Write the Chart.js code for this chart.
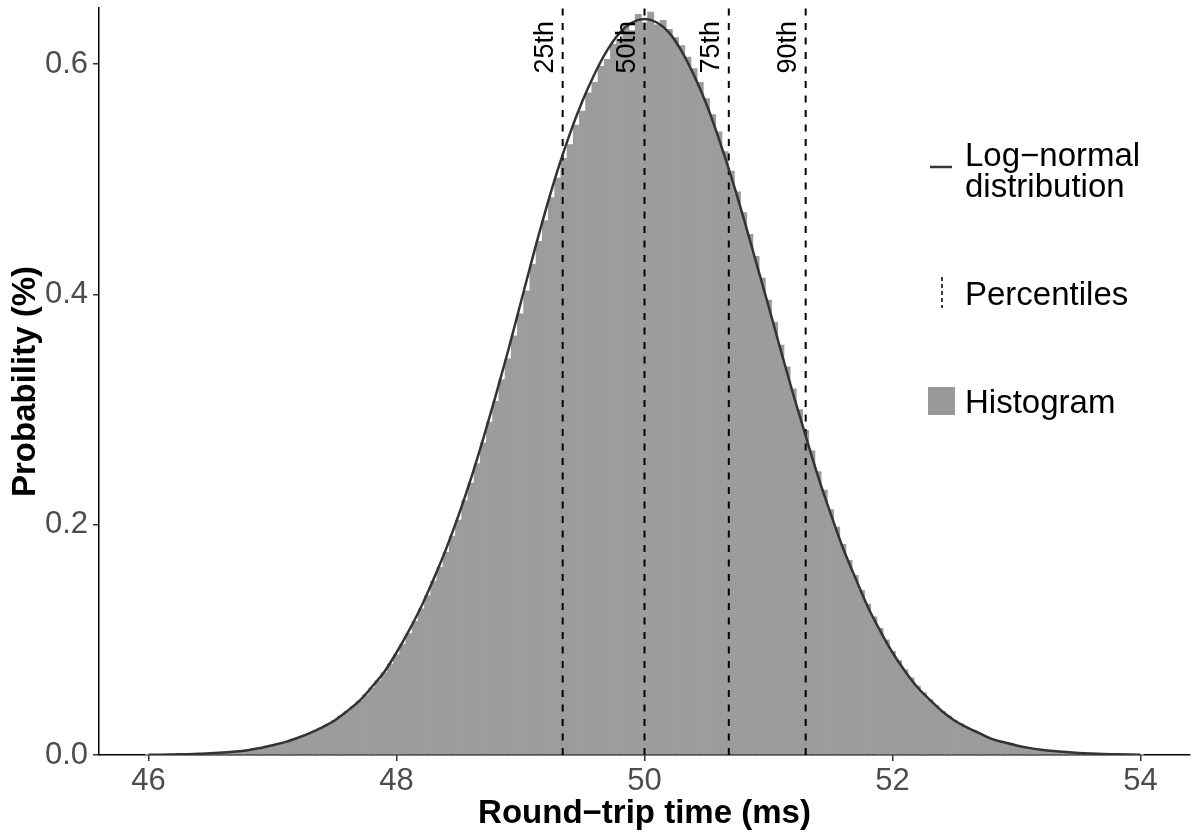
<!DOCTYPE html>
<html>
<head>
<meta charset="utf-8">
<script src="https://cdn.jsdelivr.net/npm/chart.js@4.4.1/dist/chart.umd.min.js"></script>
<style>
	html, body { margin: 0; padding: 0; background: #fff; }
	#wrap { width: 1200px; height: 840px; }
</style>
</head>
<body>
<div id="wrap"><canvas id="chart" width="1200" height="840"></canvas></div>
<script>
// histogram bins: 0.05 ms wide, starting at 46 ms
const binStart = 46;
const binWidth = 0.05;
const histValues = [
	0.0002, 0.0003, 0.0003, 0.0004, 0.0005, 0.0006, 0.0007, 0.0008, 0.0010, 0.0012,
	0.0015, 0.0018, 0.0022, 0.0026, 0.0031, 0.0037, 0.0044, 0.0051, 0.0060, 0.0070,
	0.0082, 0.0094, 0.0108, 0.0124, 0.0143, 0.0163, 0.0186, 0.0210, 0.0237, 0.0268,
	0.0300, 0.0338, 0.0376, 0.0420, 0.0468, 0.0523, 0.0582, 0.0645, 0.0714, 0.0790,
	0.0872, 0.0960, 0.1055, 0.1160, 0.1270, 0.1385, 0.151, 0.163, 0.176, 0.190,
	0.204, 0.221, 0.236, 0.253, 0.271, 0.289, 0.307, 0.326, 0.344, 0.364,
	0.383, 0.403, 0.426, 0.446, 0.464, 0.484, 0.501, 0.518, 0.530, 0.547,
	0.559, 0.575, 0.584, 0.598, 0.604, 0.617, 0.621, 0.633, 0.629, 0.643,
	0.636, 0.645, 0.634, 0.638, 0.630, 0.623, 0.616, 0.606, 0.596, 0.584,
	0.570, 0.556, 0.541, 0.524, 0.507, 0.489, 0.471, 0.452, 0.433, 0.414,
	0.395, 0.376, 0.356, 0.337, 0.318, 0.300, 0.282, 0.264, 0.246, 0.230,
	0.213, 0.198, 0.183, 0.169, 0.156, 0.143, 0.131, 0.120, 0.110, 0.100,
	0.090, 0.082, 0.074, 0.067, 0.060, 0.054, 0.048, 0.043, 0.038, 0.034,
	0.030, 0.027, 0.024, 0.021, 0.0185, 0.0162, 0.0142, 0.0124, 0.0108, 0.0094,
	0.0081, 0.0070, 0.0061, 0.0052, 0.0045, 0.0039, 0.0033, 0.0028, 0.0024, 0.0020,
	0.0017, 0.0015, 0.0012, 0.0010, 0.0009, 0.0007, 0.0006, 0.0005, 0.0004, 0.0004,
	0.0003
];

// fitted log-normal curve, sampled every 0.1 ms from 46 ms
const curveStart = 46;
const curveStep = 0.1;
const curveValues = [
	0.0002, 0.0003, 0.0005, 0.0007, 0.0010, 0.0016, 0.0022, 0.0030, 0.0042, 0.0060,
	0.0085, 0.0112, 0.0148, 0.019, 0.024, 0.030, 0.038, 0.047, 0.059, 0.072,
	0.089, 0.108, 0.129, 0.153, 0.179, 0.208, 0.240, 0.275, 0.312, 0.351,
	0.392, 0.433, 0.472, 0.508, 0.540, 0.568, 0.592, 0.612, 0.627, 0.636,
	0.639, 0.636, 0.627, 0.611, 0.590, 0.565, 0.535, 0.502, 0.466, 0.428,
	0.390, 0.351, 0.313, 0.277, 0.242, 0.210, 0.180, 0.154, 0.129, 0.108,
	0.089, 0.073, 0.059, 0.048, 0.038, 0.030, 0.024, 0.019, 0.014, 0.011,
	0.0083, 0.0062, 0.0046, 0.0034, 0.0025, 0.0018, 0.0013, 0.0009, 0.0007, 0.0005,
	0.0003
];

const percentiles = [49.34, 50.0, 50.68, 51.3];
const percentileLabels = ['25th', '50th', '75th', '90th'];

const xTicks = [46, 48, 50, 52, 54];
const yTicks = [0, 0.2, 0.4, 0.6];
const xRange = [45.6, 54.4];
const yRange = [0, 0.6486];

const FONT = "'Liberation Sans', Arial, sans-serif";
const barColor = '#9c9c9c';
const curveColor = '#333333';

const histPoints = histValues.map((v, i) => ({ x: binStart + i * binWidth, y: v }));
const curvePoints = curveValues.map((v, i) => ({ x: curveStart + i * curveStep, y: v }));

const percentileSets = percentiles.map((p, i) => ({
	type: 'line',
	label: percentileLabels[i],
	data: [{ x: p, y: yRange[0] }, { x: p, y: yRange[1] }],
	borderColor: '#000',
	borderWidth: 2,
	borderDash: [7, 7.5],
	pointRadius: 0,
	order: 1
}));

function fixSize(prop, size) {
	return (scale) => {
		scale[prop] = size;
		scale.paddingTop = 0;
		scale.paddingBottom = 0;
		scale.paddingLeft = 0;
		scale.paddingRight = 0;
	};
}

const decorations = {
	id: 'decorations',
	afterDatasetsDraw(chart) {
		const ctx = chart.ctx;
		const xs = chart.scales.x;
		const area = chart.chartArea;

		// percentile labels, rotated, just left of each line
		ctx.save();
		ctx.fillStyle = '#000';
		ctx.font = '27px ' + FONT;
		ctx.textAlign = 'right';
		ctx.textBaseline = 'alphabetic';
		percentiles.forEach((p, i) => {
			const px = xs.getPixelForValue(p);
			ctx.save();
			ctx.translate(px - 9.5, area.top + 13);
			ctx.rotate(-Math.PI / 2);
			ctx.fillText(percentileLabels[i], 0, 0);
			ctx.restore();
		});
		ctx.restore();
	},
	afterDraw(chart) {
		const ctx = chart.ctx;
		const area = chart.chartArea;
		ctx.save();

		// axis titles
		ctx.fillStyle = '#000';
		ctx.font = 'bold 33px ' + FONT;
		ctx.textAlign = 'center';
		ctx.textBaseline = 'alphabetic';
		ctx.fillText('Round\u2212trip time (ms)', (area.left + area.right) / 2, 823);
		ctx.save();
		ctx.translate(35, (area.top + area.bottom) / 2);
		ctx.rotate(-Math.PI / 2);
		ctx.fillText('Probability (%)', 0, 0);
		ctx.restore();

		// legend
		ctx.font = '33px ' + FONT;
		ctx.textAlign = 'left';
		ctx.strokeStyle = curveColor;
		ctx.lineWidth = 2.5;
		ctx.beginPath();
		ctx.moveTo(930, 167);
		ctx.lineTo(952, 167);
		ctx.stroke();
		ctx.fillText('Log\u2212normal', 965, 166);
		ctx.fillText('distribution', 965, 197);

		ctx.strokeStyle = '#000';
		ctx.lineWidth = 1.5;
		ctx.setLineDash([4, 3]);
		ctx.beginPath();
		ctx.moveTo(942, 277);
		ctx.lineTo(942, 308);
		ctx.stroke();
		ctx.setLineDash([]);
		ctx.fillText('Percentiles', 965, 305);

		ctx.fillStyle = '#999999';
		ctx.fillRect(928, 387, 27, 28);
		ctx.fillStyle = '#000';
		ctx.fillText('Histogram', 965, 413);

		ctx.restore();
	}
};

const chart = new Chart(document.getElementById('chart'), {
	type: 'bar',
	data: {
		datasets: [
			{
				type: 'line',
				label: 'Log-normal distribution',
				data: curvePoints,
				borderColor: curveColor,
				borderWidth: 2.5,
				pointRadius: 0,
				cubicInterpolationMode: 'monotone',
				order: 0
			},
			...percentileSets,
			{
				type: 'bar',
				label: 'Histogram',
				data: histPoints,
				backgroundColor: barColor,
				borderWidth: 0,
				barPercentage: 1,
				categoryPercentage: 1,
				order: 2
			}
		]
	},
	options: {
		responsive: false,
		animation: false,
		devicePixelRatio: 1,
		layout: { padding: { top: 8, right: 10, left: 0, bottom: 0 } },
		plugins: { legend: { display: false }, tooltip: { enabled: false } },
		scales: {
			x: {
				type: 'linear',
				min: xRange[0],
				max: xRange[1],
				offset: false,
				afterBuildTicks: (s) => { s.ticks = xTicks.map(v => ({ value: v })); },
				afterFit: fixSize('height', 85),
				ticks: {
					font: { family: FONT, size: 31 },
					color: '#4d4d4d',
					padding: 2,
					maxRotation: 0,
					callback: (v) => String(v)
				},
				grid: { display: true, offset: false, drawOnChartArea: false, drawTicks: true, tickLength: 6, color: '#333', lineWidth: 1.5 },
				border: { display: true, color: '#000', width: 1.5 }
			},
			y: {
				min: yRange[0],
				max: yRange[1],
				afterBuildTicks: (s) => { s.ticks = yTicks.map(v => ({ value: v })); },
				afterFit: fixSize('width', 99),
				ticks: {
					font: { family: FONT, size: 31 },
					color: '#4d4d4d',
					padding: 5,
					callback: (v) => v.toFixed(1)
				},
				grid: { display: true, drawOnChartArea: false, drawTicks: true, tickLength: 6, color: '#333', lineWidth: 1.5 },
				border: { display: true, color: '#000', width: 1.5 }
			}
		}
	},
	plugins: [decorations]
});
</script>
</body>
</html>
